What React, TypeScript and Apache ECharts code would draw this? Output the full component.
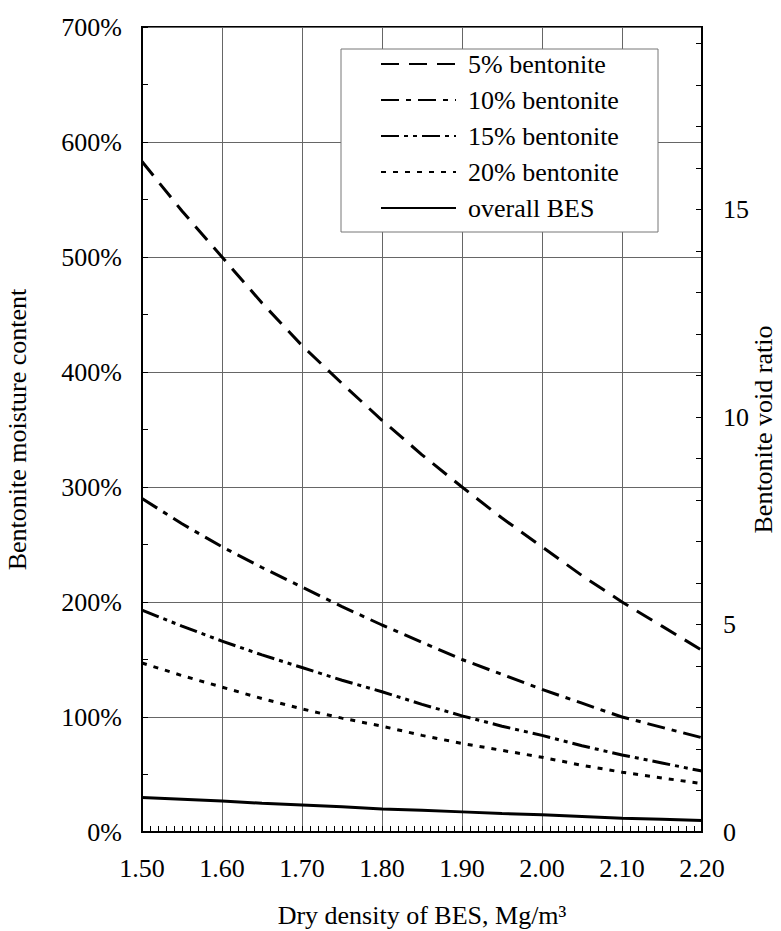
import React, { useEffect, useRef } from "react";
import * as echarts from "echarts";

const density = [1.5, 1.55, 1.6, 1.65, 1.7, 1.75, 1.8, 1.85, 1.9, 1.95, 2.0, 2.05, 2.1, 2.15, 2.2];
const bentonite5 = [583, 540, 500, 460, 423, 390, 358, 328, 300, 273, 248, 223, 200, 179, 158];
const bentonite10 = [290, 268, 248, 230, 213, 196, 180, 165, 150, 137, 124, 112, 100, 91, 82];
const bentonite15 = [193, 179, 166, 154, 143, 132, 122, 111, 101, 92, 84, 75, 67, 60, 53];
const bentonite20 = [147, 136, 126, 116, 107, 99, 92, 84, 77, 71, 65, 58, 52, 47, 42];
const overallBES = [30, 28.5, 27, 25, 23.5, 22, 20, 19, 17.5, 16, 15, 13.5, 12, 11, 10];
const seriesNames = ["5% bentonite", "10% bentonite", "15% bentonite", "20% bentonite", "overall BES"];

const FONT = "Liberation Serif";

export default function App() {
  const ref = useRef<HTMLDivElement>(null);
  useEffect(() => {
    if (!ref.current) return;
    const chart = echarts.init(ref.current, null, { renderer: "svg" });
    const pairs = (vals: number[]) => density.map((d, i) => [d, vals[i]]);
    const mk = (name: string, vals: number[], dash: any) => ({
      name,
      type: "line",
      data: pairs(vals),
      symbol: "none",
      yAxisIndex: 0,
      lineStyle: { color: "#000", width: 3, type: dash, cap: "butt" },
      itemStyle: { color: "#000" },
      z: 3,
    });
    chart.setOption({
      animation: false,
      textStyle: { fontFamily: FONT, color: "#000" },
      grid: {
        left: 142,
        top: 27,
        right: 79,
        bottom: 99,
        show: true,
        borderColor: "#000",
        borderWidth: 2,
        backgroundColor: "transparent",
        containLabel: false,
        outerBoundsMode: "none",
      },
      graphic: [
        {
          type: "rect",
          shape: { x: 341, y: 49, width: 317, height: 183 },
          style: { fill: "#fff", stroke: "#777", lineWidth: 1 },
          z: 3,
        },
      ],
      legend: {
        orient: "vertical",
        left: 341,
        top: 49,
        padding: [2, 20, 12, 39],
        itemWidth: 75,
        itemHeight: 14,
        itemGap: 10,
        data: seriesNames,
        itemStyle: { color: "rgba(0,0,0,0)", borderWidth: 0, opacity: 0 },
        textStyle: { fontFamily: FONT, fontSize: 26, color: "#000", lineHeight: 26, padding: [0, 0, 0, 7] },
        z: 5,
      },
      xAxis: {
        type: "value",
        min: 1.5,
        max: 2.2,
        interval: 0.1,
        name: "Dry density of BES, Mg/m³",
        nameLocation: "middle",
        nameGap: 70,
        nameMoveOverlap: false,
        nameTextStyle: { fontFamily: FONT, fontSize: 26, color: "#000" },
        axisLine: { show: true, lineStyle: { color: "#000", width: 2 } },
        axisTick: { show: true, inside: true, length: 6, lineStyle: { color: "#000" } },
        minorTick: { show: true, splitNumber: 10, length: 6, lineStyle: { color: "#000", width: 1 } },
        axisLabel: {
          fontFamily: FONT,
          fontSize: 26,
          color: "#000",
          margin: 23,
          formatter: (v: number) => v.toFixed(2),
        },
        splitLine: { show: true, lineStyle: { color: "#666", width: 1 } },
      },
      yAxis: [
        {
          type: "value",
          min: 0,
          max: 700,
          interval: 100,
          position: "left",
          name: "Bentonite moisture content",
          nameLocation: "middle",
          nameGap: 112,
          nameMoveOverlap: false,
          nameTextStyle: { fontFamily: FONT, fontSize: 26, color: "#000" },
          axisLine: { show: true, lineStyle: { color: "#000", width: 2 } },
          axisTick: { show: true, inside: true, length: 6, lineStyle: { color: "#000" } },
          minorTick: { show: true, splitNumber: 2, length: 6, lineStyle: { color: "#000", width: 1 } },
          axisLabel: {
            fontFamily: FONT,
            fontSize: 26,
            color: "#000",
            margin: 20,
            formatter: (v: number) => v + "%",
          },
          splitLine: { show: true, lineStyle: { color: "#666", width: 1 } },
        },
        {
          type: "value",
          min: 0,
          max: 19.4,
          interval: 1,
          position: "right",
          name: "Bentonite void ratio",
          nameLocation: "middle",
          nameRotate: 90,
          nameGap: 48,
          nameMoveOverlap: false,
          nameTextStyle: { fontFamily: FONT, fontSize: 26, color: "#000" },
          axisLine: { show: true, lineStyle: { color: "#000", width: 2 } },
          axisTick: { show: true, inside: true, length: 6, lineStyle: { color: "#000" } },
          axisLabel: {
            fontFamily: FONT,
            fontSize: 26,
            color: "#000",
            margin: 21,
            showMaxLabel: false,
            formatter: (v: number) => (Math.abs(v % 5) < 1e-9 ? String(v) : ""),
          },
          splitLine: { show: false },
        },
      ],
      series: [
        mk(seriesNames[0], bentonite5, [18, 10]),
        mk(seriesNames[1], bentonite10, [18, 7, 5, 7]),
        mk(seriesNames[2], bentonite15, [18, 5, 4, 5, 4, 5]),
        mk(seriesNames[3], bentonite20, [5, 7]),
        mk(seriesNames[4], overallBES, "solid"),
      ],
    });
    return () => chart.dispose();
  }, []);
  return <div ref={ref} style={{ width: 781, height: 931, position: "absolute", left: 0, top: 0 }} />;
}
